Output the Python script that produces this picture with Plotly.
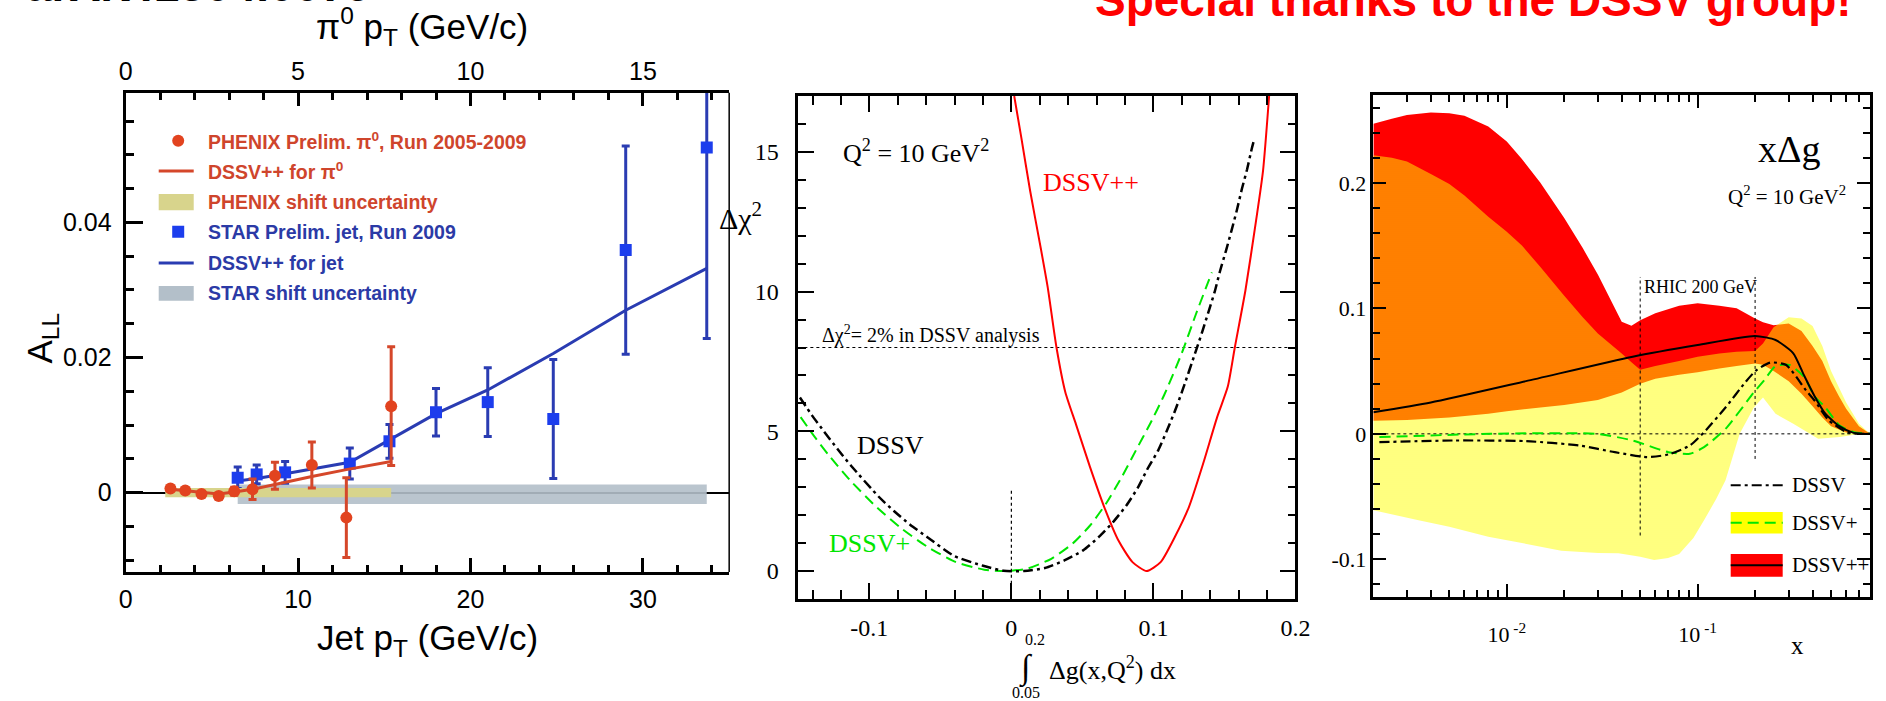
import math
import plotly.graph_objects as go

W, H = 1886, 701

# ---------------- Left panel: A_LL vs pT ----------------
phenix_pt = [1.3, 1.73, 2.2, 2.7, 3.15, 3.68, 4.33, 5.4, 6.4, 7.7]          # pi0 pT (top axis)
phenix_all = [0.0006, 0.0003, -0.0002, -0.0005, 0.0002, 0.0005, 0.0025, 0.0041, -0.0037, 0.0128]
phenix_err = [0.0003, 0.0003, 0.0003, 0.0004, 0.0006, 0.0015, 0.0020, 0.0034, 0.0059, 0.0088]
dssvpp_pi0_pt = [1.3, 1.73, 2.2, 2.7, 3.15, 3.68, 4.33, 5.4, 6.4, 7.7]
dssvpp_pi0 = [0.0005, 0.0003, 0.0, -0.0002, 0.0001, 0.0005, 0.0012, 0.0024, 0.0034, 0.0046]
phenix_shift_pt = [1.15, 7.7]
phenix_shift = [-0.0007, 0.0007]

star_pt = [6.5, 7.6, 9.25, 13.0, 15.3, 18.0, 21.0, 24.8, 29.0, 33.7]        # jet pT (bottom axis)
star_all = [0.0022, 0.0027, 0.0030, 0.0043, 0.0076, 0.0119, 0.0134, 0.0109, 0.0359, 0.0511]
star_err = [0.0016, 0.0014, 0.0016, 0.0023, 0.0025, 0.0035, 0.0051, 0.0088, 0.0154, 0.0283]
dssvpp_jet_pt = [6.4, 7.6, 9.25, 13.0, 15.3, 18.0, 21.0, 24.8, 29.0, 33.7]
dssvpp_jet = [0.0017, 0.0021, 0.0028, 0.0045, 0.0078, 0.0117, 0.0152, 0.0206, 0.0270, 0.0332]
star_shift_pt = [6.5, 33.7]
star_shift = [-0.0017, 0.0012]

left_legend_labels = [
    "<b>PHENIX Prelim. π<sup>0</sup>, Run 2005-2009</b>",
    "<b>DSSV++ for π<sup>0</sup></b>",
    "<b>PHENIX shift uncertainty</b>",
    "<b>STAR Prelim. jet, Run 2009</b>",
    "<b>DSSV++ for jet</b>",
    "<b>STAR shift uncertainty</b>",
]
left_legend_rows = [0.0521, 0.0476, 0.0430, 0.0386, 0.0340, 0.0295]

# ---------------- Middle panel: chi2 profiles ----------------
dssv_x = [-0.1489, -0.1404, -0.1317, -0.1223, -0.1129, -0.0932, -0.0825, -0.0713, -0.0594, -0.0403,
          -0.0199, -0.0055, 0.0089, 0.0236, 0.0373, 0.0505, 0.0616, 0.0716, 0.0810, 0.0890, 0.0959,
          0.1034, 0.1094, 0.1151, 0.1201, 0.1300, 0.1345, 0.1387, 0.1432, 0.1469, 0.1511, 0.1551,
          0.1588, 0.1623, 0.1660, 0.1693, 0.1710]
dssv_chi2 = [6.21, 5.57, 4.98, 4.36, 3.77, 2.65, 2.14, 1.66, 1.22, 0.54,
             0.19, 0.01, 0.0, 0.11, 0.38, 0.74, 1.22, 1.75, 2.35, 2.98, 3.66,
             4.32, 5.01, 5.72, 6.41, 7.89, 8.58, 9.26, 10.0, 10.73, 11.46, 12.2,
             12.92, 13.67, 14.38, 15.12, 15.45]
dssvp_x = [-0.1484, -0.1385, -0.1285, -0.1136, -0.0962, -0.0788, -0.0589, -0.0390, -0.0191, -0.0042,
           0.0107, 0.0281, 0.0430, 0.0554, 0.0666, 0.0778, 0.0877, 0.0977, 0.1076, 0.1200, 0.1300, 0.1412]
dssvp_chi2 = [5.51, 4.80, 4.14, 3.25, 2.35, 1.58, 0.86, 0.32, 0.05, 0.0,
              0.08, 0.44, 0.98, 1.63, 2.41, 3.37, 4.32, 5.27, 6.30, 7.80, 9.20, 10.69]
dssvpp_x = [0.0020, 0.0070, 0.0132, 0.0206, 0.0256, 0.0318, 0.0380, 0.0455, 0.0554, 0.0654, 0.0753,
            0.0853, 0.0952, 0.1051, 0.1151, 0.1250, 0.1350, 0.1449, 0.1524, 0.1573, 0.1648, 0.1723,
            0.1772, 0.1815]
dssvpp_chi2 = [17.0, 15.51, 13.61, 11.58, 10.15, 7.99, 6.40, 5.25, 3.72, 2.29, 1.10,
               0.32, 0.0, 0.32, 1.22, 2.29, 3.84, 5.51, 6.60, 7.99, 10.04, 12.54,
               14.32, 17.0]
chi2_ref_level = [8.0, 8.0]
chi2_ref_x = [-0.15, 0.2]
zero_mark_x = [0.0, 0.0]
zero_mark_y = [-0.45, 2.9]

# ---------------- Right panel: x Delta g ----------------
red_up_x = [0.002, 0.0025, 0.003, 0.004, 0.005, 0.006, 0.008, 0.01, 0.012, 0.015, 0.02, 0.025, 0.03,
            0.04, 0.045, 0.05, 0.06, 0.08, 0.1, 0.13, 0.16, 0.2, 0.22, 0.25, 0.3, 0.35, 0.4, 0.45,
            0.5, 0.55, 0.6, 0.7, 0.8]
red_up = [0.247, 0.251, 0.254, 0.256, 0.2555, 0.2535, 0.245, 0.233, 0.219, 0.200, 0.172, 0.148, 0.127,
          0.0894, 0.0862, 0.0905, 0.096, 0.102, 0.104, 0.102, 0.100, 0.092, 0.089, 0.0865, 0.088, 0.082,
          0.070, 0.058, 0.042, 0.030, 0.020, 0.006, 0.0]
red_lo_x = [0.002, 0.003, 0.005, 0.008, 0.01, 0.015, 0.02, 0.03, 0.04, 0.05, 0.06, 0.08, 0.1, 0.13,
            0.16, 0.2, 0.22, 0.25, 0.3, 0.35, 0.4, 0.45, 0.5, 0.6, 0.7, 0.8]
red_lo = [0.0105, 0.011, 0.013, 0.016, 0.018, 0.021, 0.023, 0.027, 0.033, 0.040, 0.044, 0.047, 0.049, 0.052,
          0.054, 0.056, 0.055, 0.050, 0.042, 0.032, 0.022, 0.013, 0.006, 0.001, 0.0, 0.0]
yel_up_x = [0.002, 0.0025, 0.003, 0.004, 0.005, 0.006, 0.008, 0.01, 0.012, 0.015, 0.02, 0.025, 0.03,
            0.04, 0.045, 0.05, 0.06, 0.08, 0.1, 0.13, 0.16, 0.2, 0.22, 0.25, 0.3, 0.35, 0.4, 0.45,
            0.5, 0.55, 0.6, 0.7, 0.8]
yel_up = [0.222, 0.220, 0.217, 0.207, 0.199, 0.190, 0.173, 0.161, 0.150, 0.133, 0.110, 0.093, 0.080,
          0.064, 0.057, 0.051, 0.054, 0.058, 0.0615, 0.064, 0.0655, 0.066, 0.072, 0.085, 0.093, 0.092,
          0.086, 0.070, 0.050, 0.037, 0.025, 0.008, 0.0]
yel_lo_x = [0.002, 0.00345, 0.005, 0.008, 0.012, 0.0193, 0.03, 0.0385, 0.05, 0.0592, 0.07, 0.08, 0.095,
            0.108, 0.125, 0.14, 0.166, 0.197, 0.22, 0.256, 0.317, 0.428, 0.555, 0.718, 0.8]
yel_lo = [-0.0608, -0.0688, -0.074, -0.082, -0.087, -0.0931, -0.095, -0.0952, -0.098, -0.1005, -0.099,
          -0.0958, -0.083, -0.0688, -0.052, -0.037, 0.0, 0.021, 0.029, 0.016, 0.008, -0.004, -0.0026,
          0.0, 0.0]
xdg_pp_x = [0.002, 0.004, 0.0126, 0.0457, 0.1, 0.2, 0.256, 0.317, 0.36, 0.41, 0.467, 0.555, 0.65, 0.72, 0.8]
xdg_pp = [0.0172, 0.025, 0.042, 0.0615, 0.0708, 0.078, 0.0748, 0.0642, 0.047, 0.030, 0.016, 0.006, 0.001, 0.0, 0.0]
xdg_dssv_x = [0.00215, 0.0053, 0.0126, 0.024, 0.0368, 0.0543, 0.0703, 0.091, 0.108, 0.14, 0.1775, 0.2018,
              0.24, 0.291, 0.368, 0.41, 0.488, 0.605, 0.718, 0.8]
xdg_dssv = [-0.0066, -0.0053, -0.0058, -0.0093, -0.0146, -0.0185, -0.0164, -0.0093, 0.0013, 0.021, 0.041,
            0.0504, 0.0568, 0.0549, 0.035, 0.0265, 0.0106, 0.0013, 0.0, 0.0]
xdg_dssvp_x = [0.00215, 0.0082, 0.0296, 0.0457, 0.0703, 0.091, 0.108, 0.14, 0.197, 0.224, 0.256, 0.303,
               0.36, 0.41, 0.467, 0.555, 0.66, 0.78, 0.8]
xdg_dssvp = [-0.0026, 0.0, 0.0, -0.0053, -0.0146, -0.0159, -0.0106, 0.004, 0.033, 0.043, 0.054, 0.0549,
             0.0456, 0.030, 0.021, 0.0066, 0.0013, 0.0, 0.0]
rhic_x_min = [0.05, 0.05]
rhic_y_min = [-0.081, 0.125]
rhic_x_max = [0.2, 0.2]
rhic_y_max = [-0.02, 0.125]
xdg_zero_x = [0.002, 0.8]
xdg_zero_y = [0.0, 0.0]

# ---------------- colours / fonts ----------------
SANS = "Liberation Sans"
SERIF = "Liberation Serif"
PHX_RED = "#e2431f"
PHX_LINE = "#d5472a"
PHX_TXT = "#cf452c"
STAR_BLUE = "#1c3ded"
STAR_LINE = "#2a3cb2"
STAR_TXT = "#2b3aa6"
PHX_BAND = "#d8d48c"
STAR_BAND = "#b3bfc9"

L_TOP, L_BOT = 92.7, 572.0


def px_x(p):
    return p / W


def px_y(p):
    return 1 - p / H


fig = go.Figure()

# ---- left panel traces ----
fig.add_trace(go.Scatter(
    x=[phenix_shift_pt[0], phenix_shift_pt[1], phenix_shift_pt[1], phenix_shift_pt[0]],
    y=[phenix_shift[0], phenix_shift[0], phenix_shift[1], phenix_shift[1]],
    xaxis="x4", yaxis="y", fill="toself", fillcolor=PHX_BAND, mode="none", showlegend=False))
fig.add_trace(go.Scatter(
    x=[star_shift_pt[0], star_shift_pt[1], star_shift_pt[1], star_shift_pt[0]],
    y=[star_shift[0], star_shift[0], star_shift[1], star_shift[1]],
    xaxis="x", yaxis="y", fill="toself", fillcolor=STAR_BAND, opacity=0.9, mode="none", showlegend=False))
fig.add_trace(go.Scatter(x=dssvpp_pi0_pt, y=dssvpp_pi0, xaxis="x4", yaxis="y", mode="lines",
                         line=dict(color=PHX_LINE, width=3), showlegend=False))
fig.add_trace(go.Scatter(x=dssvpp_jet_pt, y=dssvpp_jet, xaxis="x", yaxis="y", mode="lines",
                         line=dict(color=STAR_LINE, width=3), showlegend=False))
fig.add_trace(go.Scatter(x=phenix_pt, y=phenix_all, xaxis="x4", yaxis="y", mode="markers",
                         marker=dict(symbol="circle", size=12, color=PHX_RED),
                         error_y=dict(type="data", array=phenix_err, color=PHX_LINE, thickness=3, width=4),
                         showlegend=False))
fig.add_trace(go.Scatter(x=star_pt, y=star_all, xaxis="x", yaxis="y", mode="markers",
                         marker=dict(symbol="square", size=12, color=STAR_BLUE),
                         error_y=dict(type="data", array=star_err, color=STAR_LINE, thickness=3, width=4),
                         showlegend=False))

# ---- middle panel traces ----
fig.add_trace(go.Scatter(x=chi2_ref_x, y=chi2_ref_level, xaxis="x2", yaxis="y2", mode="lines",
                         line=dict(color="black", width=1.2, dash="dot"), showlegend=False))
fig.add_trace(go.Scatter(x=zero_mark_x, y=zero_mark_y, xaxis="x2", yaxis="y2", mode="lines",
                         line=dict(color="black", width=1.2, dash="dot"), showlegend=False))
fig.add_trace(go.Scatter(x=dssvp_x, y=dssvp_chi2, xaxis="x2", yaxis="y2", mode="lines",
                         line=dict(color="#00e600", width=2, dash="11px,6px", shape="spline", smoothing=0.6),
                         showlegend=False))
fig.add_trace(go.Scatter(x=dssv_x, y=dssv_chi2, xaxis="x2", yaxis="y2", mode="lines",
                         line=dict(color="black", width=2.5, dash="10px,4px,3px,4px", shape="spline",
                                   smoothing=0.6),
                         showlegend=False))
fig.add_trace(go.Scatter(x=dssvpp_x, y=dssvpp_chi2, xaxis="x2", yaxis="y2", mode="lines",
                         line=dict(color="#ff0000", width=2, shape="spline", smoothing=0.6),
                         showlegend=False))

# ---- right panel traces ----
fig.add_trace(go.Scatter(x=red_up_x + red_lo_x[::-1], y=red_up + red_lo[::-1], xaxis="x3", yaxis="y3",
                         fill="toself", fillcolor="#ff0000", mode="none", showlegend=False))
fig.add_trace(go.Scatter(x=yel_up_x + yel_lo_x[::-1], y=yel_up + yel_lo[::-1], xaxis="x3", yaxis="y3",
                         fill="toself", mode="none", showlegend=False,
                         fillpattern=dict(shape="-", fgcolor="#ffff00", bgcolor="rgba(0,0,0,0)",
                                          size=2, solidity=0.5, fillmode="replace")))
fig.add_trace(go.Scatter(x=xdg_zero_x, y=xdg_zero_y, xaxis="x3", yaxis="y3", mode="lines",
                         line=dict(color="black", width=1, dash="dot"), showlegend=False))
fig.add_trace(go.Scatter(x=rhic_x_min, y=rhic_y_min, xaxis="x3", yaxis="y3", mode="lines",
                         line=dict(color="black", width=1, dash="dot"), showlegend=False))
fig.add_trace(go.Scatter(x=rhic_x_max, y=rhic_y_max, xaxis="x3", yaxis="y3", mode="lines",
                         line=dict(color="black", width=1, dash="dot"), showlegend=False))
fig.add_trace(go.Scatter(x=xdg_dssvp_x, y=xdg_dssvp, xaxis="x3", yaxis="y3", mode="lines",
                         line=dict(color="#00e600", width=2, dash="11px,6px", shape="spline", smoothing=0.6),
                         showlegend=False))
fig.add_trace(go.Scatter(x=xdg_dssv_x, y=xdg_dssv, xaxis="x3", yaxis="y3", mode="lines",
                         line=dict(color="black", width=2.2, dash="10px,4px,3px,4px", shape="spline",
                                   smoothing=0.6),
                         showlegend=False))
fig.add_trace(go.Scatter(x=xdg_pp_x, y=xdg_pp, xaxis="x3", yaxis="y3", mode="lines",
                         line=dict(color="black", width=2, shape="spline", smoothing=0.6),
                         showlegend=False))

# ---------------- axes ----------------
sans_tick = dict(family=SANS, size=25, color="black")
serif_tick = dict(family=SERIF, size=24, color="black")

fig.update_layout(
    width=W, height=H, margin=dict(l=0, r=0, t=0, b=0),
    paper_bgcolor="white", plot_bgcolor="white", showlegend=False,
    xaxis=dict(domain=[px_x(120), px_x(730.7)], range=[0, 35], anchor="y",
               tickvals=[0, 10, 20, 30], ticktext=["0", "10", "20", "30"],
               ticks="inside", ticklen=14, tickwidth=2.5, tickcolor="black",
               minor=dict(ticks="inside", ticklen=7, tickwidth=2.5, dtick=2, tick0=0, tickcolor="black"),
               showline=True, linewidth=3, linecolor="black", mirror=False,
               showgrid=False, zeroline=False, tickfont=sans_tick, ticklabelstandoff=3),
    xaxis4=dict(overlaying="x", side="top", anchor="y", range=[0, 17.5],
                tickvals=[0, 5, 10, 15], ticktext=["0", "5", "10", "15"],
                ticks="inside", ticklen=13, tickwidth=2.5, tickcolor="black",
                minor=dict(ticks="inside", ticklen=7, tickwidth=2.5, dtick=1, tick0=0, tickcolor="black"),
                showline=True, linewidth=3, linecolor="black",
                showgrid=False, zeroline=False, tickfont=sans_tick, ticklabelstandoff=0),
    yaxis=dict(domain=[px_y(L_BOT), px_y(L_TOP)], range=[-0.01175, 0.0592], anchor="x",
               tickvals=[0, 0.02, 0.04], ticktext=["0", "0.02", "0.04"],
               ticks="inside", ticklen=17, tickwidth=2.5, tickcolor="black",
               minor=dict(ticks="inside", ticklen=8, tickwidth=2.5, dtick=0.005, tick0=0, tickcolor="black"),
               showline=True, linewidth=3, linecolor="black", mirror=False,
               showgrid=False, zeroline=True, zerolinecolor="black", zerolinewidth=1.5,
               tickfont=sans_tick, ticklabelstandoff=6),
    xaxis2=dict(domain=[px_x(800.7), px_x(1303.6)], range=[-0.15, 0.2], anchor="y2",
                tickvals=[-0.1, 0, 0.1, 0.2], ticktext=["-0.1", "0", "0.1", "0.2"],
                ticks="inside", ticklen=16, tickwidth=2, tickcolor="black",
                minor=dict(ticks="inside", ticklen=9, tickwidth=2, dtick=0.02, tick0=0, tickcolor="black"),
                showline=True, linewidth=2.5, linecolor="black", mirror="allticks",
                showgrid=False, zeroline=False, tickfont=serif_tick, ticklabelstandoff=5),
    yaxis2=dict(domain=[px_y(599), px_y(96)], range=[-1, 17], anchor="x2",
                tickvals=[0, 5, 10, 15], ticktext=["0", "5", "10", "15"],
                ticks="inside", ticklen=16, tickwidth=2, tickcolor="black",
                minor=dict(ticks="inside", ticklen=8, tickwidth=2, dtick=1, tick0=0, tickcolor="black"),
                showline=True, linewidth=2.5, linecolor="black", mirror="allticks",
                showgrid=False, zeroline=False, tickfont=serif_tick, ticklabelstandoff=12),
    xaxis3=dict(type="log", domain=[px_x(1382.5), px_x(1885)],
                range=[math.log10(0.002), math.log10(0.8)], anchor="y3",
                tickvals=[0.01, 0.1], ticktext=["10<sup> -2</sup>", "10<sup> -1</sup>"],
                ticks="inside", ticklen=13, tickwidth=2, tickcolor="black",
                minor=dict(ticks="inside", ticklen=7, tickwidth=2, tickcolor="black", tickmode="array",
                           tickvals=[0.003, 0.004, 0.005, 0.006, 0.007, 0.008, 0.009,
                                     0.02, 0.03, 0.04, 0.05, 0.06, 0.07, 0.08, 0.09,
                                     0.2, 0.3, 0.4, 0.5, 0.6, 0.7]),
                showline=True, linewidth=2.5, linecolor="black", mirror="allticks",
                showgrid=False, zeroline=False, tickfont=dict(family=SERIF, size=22, color="black"),
                ticklabelstandoff=16),
    yaxis3=dict(domain=[px_y(597), px_y(95)], range=[-0.13, 0.27], anchor="x3",
                tickvals=[-0.1, 0, 0.1, 0.2], ticktext=["-0.1", "0", "0.1", "0.2"],
                ticks="inside", ticklen=13, tickwidth=2, tickcolor="black",
                minor=dict(ticks="inside", ticklen=7, tickwidth=2, dtick=0.02, tick0=0, tickcolor="black"),
                showline=True, linewidth=2.5, linecolor="black", mirror="allticks",
                showgrid=False, zeroline=False, tickfont=dict(family=SERIF, size=22, color="black"),
                ticklabelstandoff=0),
)

shapes = []
annotations = []

# right frame line of left panel (thin)
shapes.append(dict(type="line", xref="paper", yref="paper", x0=px_x(730.7), x1=px_x(730.7),
                   y0=px_y(L_BOT), y1=px_y(L_TOP), line=dict(color="black", width=1.5)))

# ---- left legend ----
leg_txt_colors = [PHX_TXT, PHX_TXT, PHX_TXT, STAR_TXT, STAR_TXT, STAR_TXT]
for lab, row, col in zip(left_legend_labels, left_legend_rows, leg_txt_colors):
    annotations.append(dict(x=4.65, y=row, xref="x", yref="y", text=lab, showarrow=False,
                            xanchor="left", yanchor="middle",
                            font=dict(family=SANS, size=19.5, color=col)))
sw_x0, sw_x1, sw_xc = 1.92, 3.95, 3.05
shapes.append(dict(type="circle", xref="x", yref="y", xsizemode="pixel", ysizemode="pixel",
                   xanchor=sw_xc, yanchor=left_legend_rows[0], x0=-6, x1=6, y0=-6, y1=6,
                   fillcolor=PHX_RED, line=dict(width=0)))
shapes.append(dict(type="line", xref="x", yref="y", x0=sw_x0, x1=sw_x1, y0=left_legend_rows[1],
                   y1=left_legend_rows[1], line=dict(color=PHX_LINE, width=3)))
shapes.append(dict(type="rect", xref="x", yref="y", x0=sw_x0, x1=sw_x1, y0=left_legend_rows[2] - 0.0012,
                   y1=left_legend_rows[2] + 0.0012, fillcolor=PHX_BAND, line=dict(width=0)))
shapes.append(dict(type="rect", xref="x", yref="y", xsizemode="pixel", ysizemode="pixel",
                   xanchor=sw_xc, yanchor=left_legend_rows[3], x0=-6, x1=6, y0=-6, y1=6,
                   fillcolor=STAR_BLUE, line=dict(width=0)))
shapes.append(dict(type="line", xref="x", yref="y", x0=sw_x0, x1=sw_x1, y0=left_legend_rows[4],
                   y1=left_legend_rows[4], line=dict(color=STAR_LINE, width=3)))
shapes.append(dict(type="rect", xref="x", yref="y", x0=sw_x0, x1=sw_x1, y0=left_legend_rows[5] - 0.0011,
                   y1=left_legend_rows[5] + 0.0011, fillcolor=STAR_BAND, line=dict(width=0)))

# ---- left titles ----
annotations.append(dict(x=px_x(420), y=px_y(27), xref="paper", yref="paper",
                        text="π<sup>0</sup> p<sub>T</sub> (GeV/c)", showarrow=False,
                        xanchor="center", yanchor="middle", font=dict(family=SANS, size=35, color="black")))
annotations.append(dict(x=px_x(425), y=px_y(640), xref="paper", yref="paper",
                        text="Jet p<sub>T</sub> (GeV/c)", showarrow=False,
                        xanchor="center", yanchor="middle", font=dict(family=SANS, size=35, color="black")))
annotations.append(dict(x=px_x(35), y=px_y(338), xref="paper", yref="paper", textangle=-90,
                        text="A<sub>LL</sub>", showarrow=False,
                        xanchor="center", yanchor="middle", font=dict(family=SANS, size=35, color="black")))

# ---- top header texts (partially cut, as in the original slide) ----
annotations.append(dict(x=px_x(17), y=px_y(13), xref="paper", yref="paper",
                        text="<b>arXiv:1304.0079</b>", showarrow=False,
                        xanchor="left", yanchor="bottom", font=dict(family=SANS, size=46, color="black")))
annotations.append(dict(x=px_x(1869), y=px_y(28), xref="paper", yref="paper",
                        text="<b>Special thanks to the DSSV group!</b>", showarrow=False,
                        xanchor="right", yanchor="bottom", font=dict(family=SANS, size=46, color="#ff0000")))

# ---- middle panel texts ----
annotations.append(dict(x=-0.1198, y=15.0, xref="x2", yref="y2", text="Q<sup>2</sup> = 10 GeV<sup>2</sup>",
                        showarrow=False, xanchor="left", yanchor="middle",
                        font=dict(family=SERIF, size=26, color="black")))
annotations.append(dict(x=0.0206, y=13.9, xref="x2", yref="y2", text="DSSV++",
                        showarrow=False, xanchor="left", yanchor="middle",
                        font=dict(family=SERIF, size=26, color="#ff0000")))
annotations.append(dict(x=-0.1347, y=8.45, xref="x2", yref="y2", text="Δχ<sup>2</sup>= 2% in DSSV analysis",
                        showarrow=False, xanchor="left", yanchor="middle",
                        font=dict(family=SERIF, size=20, color="black")))
annotations.append(dict(x=-0.1099, y=4.5, xref="x2", yref="y2", text="DSSV",
                        showarrow=False, xanchor="left", yanchor="middle",
                        font=dict(family=SERIF, size=26, color="black")))
annotations.append(dict(x=-0.1298, y=0.98, xref="x2", yref="y2", text="DSSV+",
                        showarrow=False, xanchor="left", yanchor="middle",
                        font=dict(family=SERIF, size=26, color="#00e600")))
annotations.append(dict(x=px_x(742), y=px_y(216), xref="paper", yref="paper", text="Δχ<sup>2</sup>",
                        showarrow=False, xanchor="center", yanchor="middle",
                        font=dict(family=SERIF, size=30, color="black")))
annotations.append(dict(x=px_x(1031), y=px_y(668), xref="paper", yref="paper", text="∫",
                        showarrow=False, xanchor="center", yanchor="middle",
                        font=dict(family=SERIF, size=34, color="black")))
annotations.append(dict(x=px_x(1040), y=px_y(639), xref="paper", yref="paper", text="0.2",
                        showarrow=False, xanchor="center", yanchor="middle",
                        font=dict(family=SERIF, size=16, color="black")))
annotations.append(dict(x=px_x(1031), y=px_y(692), xref="paper", yref="paper", text="0.05",
                        showarrow=False, xanchor="center", yanchor="middle",
                        font=dict(family=SERIF, size=16, color="black")))
annotations.append(dict(x=px_x(1052), y=px_y(668), xref="paper", yref="paper",
                        text="Δg(x,Q<sup>2</sup>) dx", showarrow=False, xanchor="left", yanchor="middle",
                        font=dict(family=SERIF, size=26, color="black")))

# ---- right panel texts ----
annotations.append(dict(x=math.log10(0.2018), y=0.2273, xref="x3", yref="y3", text="xΔg",
                        showarrow=False, xanchor="left", yanchor="middle",
                        font=dict(family=SERIF, size=38, color="black")))
annotations.append(dict(x=math.log10(0.14), y=0.19, xref="x3", yref="y3",
                        text="Q<sup>2</sup> = 10 GeV<sup>2</sup>",
                        showarrow=False, xanchor="left", yanchor="middle",
                        font=dict(family=SERIF, size=21, color="black")))
annotations.append(dict(x=math.log10(0.051), y=0.117, xref="x3", yref="y3", text="RHIC 200 GeV",
                        showarrow=False, xanchor="left", yanchor="middle",
                        font=dict(family=SERIF, size=18, color="black")))
annotations.append(dict(x=px_x(1812), y=px_y(645), xref="paper", yref="paper", text="x",
                        showarrow=False, xanchor="center", yanchor="middle",
                        font=dict(family=SERIF, size=25, color="black")))

# right legend (shapes on a log axis take data values)
lx0, lx1 = 0.149, 0.279
ltx = math.log10(0.303)
leg_rows_r = [-0.041, -0.0708, -0.1048]
shapes.append(dict(type="line", xref="x3", yref="y3", x0=lx0, x1=lx1, y0=leg_rows_r[0], y1=leg_rows_r[0],
                   line=dict(color="black", width=2, dash="10px,4px,3px,4px")))
shapes.append(dict(type="rect", xref="x3", yref="y3", x0=lx0, x1=lx1, y0=-0.0794, y1=-0.0622,
                   fillcolor="#ffff00", line=dict(width=0)))
shapes.append(dict(type="line", xref="x3", yref="y3", x0=lx0, x1=lx1, y0=leg_rows_r[1], y1=leg_rows_r[1],
                   line=dict(color="#00e600", width=2, dash="11px,6px")))
shapes.append(dict(type="rect", xref="x3", yref="y3", x0=lx0, x1=lx1, y0=-0.1138, y1=-0.0958,
                   fillcolor="#ff0000", line=dict(width=0)))
shapes.append(dict(type="line", xref="x3", yref="y3", x0=lx0, x1=lx1, y0=leg_rows_r[2], y1=leg_rows_r[2],
                   line=dict(color="black", width=2)))
for lab, row in zip(["DSSV", "DSSV+", "DSSV++"], leg_rows_r):
    annotations.append(dict(x=ltx, y=row, xref="x3", yref="y3", text=lab, showarrow=False,
                            xanchor="left", yanchor="middle", font=dict(family=SERIF, size=21, color="black")))

fig.update_layout(shapes=shapes, annotations=annotations)
fig.write_html("out.html")
